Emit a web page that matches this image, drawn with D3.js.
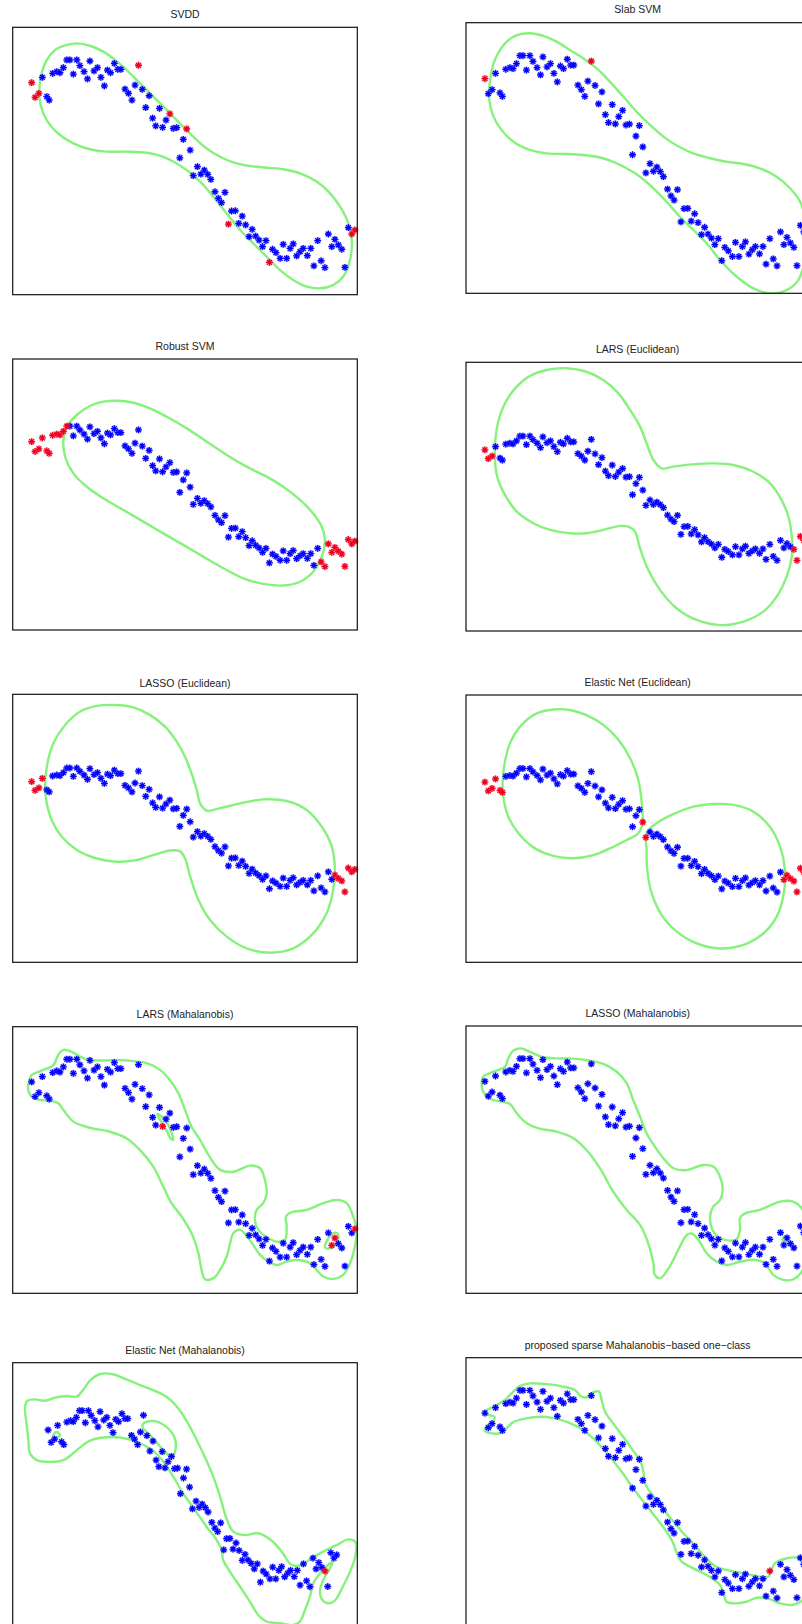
<!DOCTYPE html>
<html>
<head>
<meta charset="utf-8">
<script src="https://cdn.jsdelivr.net/npm/d3@7"></script>
<style>
  body { margin: 0; background: #fff; }
  svg { display: block; }
</style>
</head>
<body>
<div id="chart"></div>
<script>
// the same 95 samples appear in every panel
const ptX = [0.055,0.065,0.076,0.086,0.099,0.106,0.116,0.128,0.137,0.147,
  0.157,0.166,0.176,0.186,0.195,0.207,0.217,0.224,0.236,0.246,
  0.256,0.266,0.275,0.284,0.295,0.305,0.314,0.365,0.326,0.336,
  0.346,0.355,0.376,0.396,0.386,0.406,0.415,0.426,0.435,0.445,
  0.456,0.466,0.476,0.505,0.495,0.515,0.485,0.524,0.536,0.546,
  0.556,0.566,0.575,0.587,0.597,0.606,0.616,0.626,0.635,0.646,
  0.656,0.666,0.676,0.686,0.695,0.705,0.715,0.725,0.735,0.745,
  0.754,0.764,0.776,0.785,0.795,0.805,0.814,0.824,0.834,0.843,
  0.855,0.865,0.874,0.885,0.895,0.906,0.916,0.926,0.935,0.945,
  0.955,0.964,0.974,0.984,0.993];
const ptY = [0.793,0.738,0.753,0.813,0.741,0.728,0.828,0.834,0.830,0.849,
  0.878,0.878,0.825,0.878,0.857,0.834,0.807,0.874,0.837,0.849,
  0.813,0.781,0.840,0.830,0.865,0.843,0.843,0.858,0.769,0.753,
  0.728,0.784,0.768,0.744,0.700,0.660,0.631,0.697,0.626,0.653,
  0.676,0.622,0.625,0.620,0.581,0.541,0.512,0.445,0.479,0.451,
  0.466,0.450,0.431,0.385,0.360,0.344,0.383,0.264,0.313,0.314,
  0.267,0.294,0.261,0.217,0.244,0.219,0.204,0.180,0.202,0.121,
  0.170,0.157,0.136,0.188,0.136,0.173,0.190,0.145,0.161,0.173,
  0.146,0.173,0.108,0.202,0.127,0.101,0.227,0.180,0.207,0.186,
  0.170,0.102,0.251,0.227,0.242];

const titles = ["SVDD", "Slab SVM", "Robust SVM", "LARS (Euclidean)", "LASSO (Euclidean)",
  "Elastic Net (Euclidean)", "LARS (Mahalanobis)", "LASSO (Mahalanobis)",
  "Elastic Net (Mahalanobis)", "proposed sparse Mahalanobis\u2212based one\u2212class"];

// samples flagged as outliers (1-based) in each panel
const redSVDD = [1,2,3,28,41,44,58,70,94,95];
const redSlab = [1,28];
const redRobust = [1,2,3,4,5,6,7,8,9,10,11,85,86,87,88,89,90,91,92,93,94,95];
const redLarsE = [1,2,3,91,92,93,94,95];
const redLassoE = [1,2,3,4,89,90,91,92,93,94,95];
const redEnetE = [1,2,3,4,5,6,46,48,88,89,90,91,92,93,94,95];
const redLarsM = [39,88,89,95];
const redLassoM = [];
const redEnetM = [91];
const redProposed = [84];

// axis limits of each panel
const xDomains = [[0,1],[0,1],[0,1],[0,1],[0,1],[0,1],[0,1],[0,1],[-0.06,1.06],[0,1]];
const yDomains = [[0,1],[0,1],[-0.25,1.25],[-0.34,1.34],[-0.34,1.34],[-0.34,1.34],[0,1],[0,1],[-0.09,1.09],[0,1]];

// decision boundaries
const ringSVDD = [[0.077,0.741],[0.084,0.828],[0.099,0.878],[0.123,0.915],[0.157,0.934],[0.186,0.940],[0.224,0.931],[0.263,0.909],[0.297,0.878],[0.331,0.840],[0.369,0.791],[0.408,0.741],[0.447,0.691],[0.485,0.641],[0.524,0.591],[0.563,0.547],[0.602,0.516],[0.640,0.495],[0.689,0.481],[0.737,0.475],[0.785,0.469],[0.834,0.454],[0.882,0.423],[0.921,0.379],[0.950,0.329],[0.974,0.267],[0.984,0.204],[0.979,0.130],[0.959,0.067],[0.930,0.036],[0.892,0.024],[0.853,0.030],[0.814,0.055],[0.776,0.092],[0.737,0.142],[0.698,0.192],[0.660,0.242],[0.621,0.304],[0.582,0.367],[0.544,0.423],[0.505,0.466],[0.466,0.498],[0.427,0.520],[0.389,0.531],[0.331,0.535],[0.273,0.535],[0.224,0.544],[0.176,0.566],[0.137,0.597],[0.108,0.635],[0.089,0.678]];
const ringSlab = [[0.068,0.714],[0.070,0.788],[0.084,0.862],[0.114,0.924],[0.148,0.954],[0.186,0.961],[0.225,0.951],[0.264,0.930],[0.303,0.899],[0.342,0.868],[0.381,0.831],[0.419,0.782],[0.458,0.727],[0.497,0.671],[0.536,0.622],[0.575,0.579],[0.614,0.546],[0.662,0.517],[0.711,0.499],[0.759,0.486],[0.808,0.478],[0.856,0.462],[0.905,0.431],[0.944,0.388],[0.973,0.339],[0.987,0.283],[0.992,0.222],[0.987,0.123],[0.968,0.049],[0.934,0.012],[0.885,0.000],[0.837,0.018],[0.788,0.062],[0.740,0.123],[0.701,0.185],[0.662,0.234],[0.623,0.283],[0.584,0.339],[0.546,0.388],[0.507,0.431],[0.468,0.462],[0.429,0.486],[0.390,0.502],[0.342,0.511],[0.293,0.515],[0.235,0.517],[0.186,0.530],[0.138,0.560],[0.104,0.603],[0.080,0.653]];
const ringRobust = [[0.147,0.802],[0.157,0.875],[0.186,0.940],[0.224,0.990],[0.263,1.014],[0.302,1.019],[0.350,1.008],[0.398,0.977],[0.447,0.930],[0.505,0.866],[0.563,0.792],[0.621,0.719],[0.679,0.654],[0.737,0.599],[0.785,0.543],[0.834,0.470],[0.872,0.395],[0.897,0.321],[0.906,0.248],[0.897,0.156],[0.872,0.072],[0.834,0.017],[0.785,-0.004],[0.727,0.005],[0.669,0.036],[0.611,0.092],[0.553,0.156],[0.495,0.221],[0.437,0.285],[0.379,0.350],[0.321,0.414],[0.263,0.479],[0.215,0.543],[0.176,0.617],[0.152,0.710]];
const ringLarsE = [[0.084,0.750],[0.089,0.917],[0.109,1.063],[0.143,1.177],[0.186,1.254],[0.235,1.292],[0.293,1.303],[0.351,1.281],[0.400,1.229],[0.444,1.146],[0.478,1.042],[0.507,0.938],[0.526,0.834],[0.546,0.729],[0.570,0.677],[0.604,0.688],[0.662,0.702],[0.720,0.708],[0.779,0.698],[0.837,0.656],[0.885,0.584],[0.919,0.480],[0.939,0.376],[0.949,0.250],[0.949,0.125],[0.934,0.000],[0.905,-0.125],[0.866,-0.219],[0.808,-0.281],[0.740,-0.303],[0.672,-0.271],[0.614,-0.199],[0.565,-0.083],[0.531,0.041],[0.507,0.177],[0.492,0.282],[0.473,0.312],[0.449,0.317],[0.400,0.292],[0.351,0.271],[0.303,0.271],[0.245,0.292],[0.196,0.334],[0.148,0.406],[0.114,0.510],[0.091,0.624]];
const ringLassoE = [[0.094,0.740],[0.099,0.886],[0.118,1.033],[0.152,1.148],[0.195,1.231],[0.244,1.267],[0.297,1.273],[0.350,1.258],[0.398,1.211],[0.442,1.137],[0.476,1.043],[0.500,0.949],[0.519,0.845],[0.534,0.740],[0.544,0.656],[0.563,0.611],[0.602,0.626],[0.660,0.656],[0.727,0.681],[0.795,0.671],[0.853,0.615],[0.897,0.510],[0.926,0.385],[0.935,0.239],[0.930,0.113],[0.911,-0.033],[0.872,-0.159],[0.814,-0.253],[0.747,-0.280],[0.679,-0.253],[0.621,-0.179],[0.573,-0.075],[0.539,0.051],[0.515,0.198],[0.500,0.312],[0.485,0.357],[0.456,0.361],[0.408,0.332],[0.350,0.297],[0.292,0.292],[0.234,0.317],[0.186,0.364],[0.142,0.448],[0.113,0.552],[0.099,0.656]];
const ringEnetE1 = [[0.107,0.743],[0.111,0.890],[0.128,1.036],[0.162,1.152],[0.206,1.224],[0.254,1.249],[0.303,1.246],[0.351,1.214],[0.400,1.152],[0.444,1.058],[0.478,0.942],[0.502,0.806],[0.512,0.660],[0.514,0.534],[0.502,0.471],[0.468,0.429],[0.419,0.376],[0.371,0.334],[0.313,0.314],[0.254,0.329],[0.201,0.376],[0.157,0.460],[0.123,0.576]];
const ringEnetE2 = [[0.526,0.471],[0.555,0.534],[0.604,0.591],[0.662,0.638],[0.720,0.655],[0.779,0.649],[0.837,0.607],[0.885,0.512],[0.915,0.387],[0.929,0.240],[0.924,0.073],[0.905,-0.053],[0.866,-0.159],[0.808,-0.231],[0.740,-0.253],[0.672,-0.221],[0.614,-0.147],[0.570,-0.043],[0.541,0.093],[0.528,0.240],[0.526,0.366]];
const ringLarsM1 = [[0.045,0.781],[0.055,0.819],[0.084,0.835],[0.118,0.856],[0.132,0.894],[0.147,0.913],[0.171,0.906],[0.200,0.885],[0.224,0.875],[0.263,0.873],[0.302,0.875],[0.350,0.871],[0.389,0.863],[0.427,0.838],[0.456,0.800],[0.481,0.750],[0.500,0.688],[0.519,0.625],[0.544,0.575],[0.568,0.519],[0.602,0.463],[0.640,0.456],[0.689,0.479],[0.718,0.469],[0.732,0.425],[0.737,0.375],[0.727,0.338],[0.708,0.313],[0.703,0.275],[0.713,0.238],[0.737,0.210],[0.766,0.194],[0.790,0.200],[0.795,0.250],[0.793,0.288],[0.809,0.304],[0.853,0.313],[0.901,0.338],[0.940,0.350],[0.969,0.338],[0.988,0.288],[0.998,0.238],[0.993,0.175],[0.979,0.113],[0.959,0.069],[0.930,0.054],[0.901,0.063],[0.882,0.088],[0.863,0.113],[0.824,0.125],[0.795,0.119],[0.766,0.106],[0.742,0.119],[0.718,0.144],[0.698,0.181],[0.679,0.215],[0.660,0.238],[0.640,0.225],[0.631,0.188],[0.621,0.138],[0.602,0.088],[0.582,0.056],[0.558,0.053],[0.548,0.088],[0.539,0.150],[0.519,0.225],[0.490,0.288],[0.461,0.338],[0.437,0.400],[0.408,0.475],[0.369,0.538],[0.331,0.581],[0.282,0.606],[0.224,0.621],[0.176,0.644],[0.147,0.688],[0.132,0.713],[0.108,0.723],[0.079,0.725],[0.055,0.738],[0.045,0.763]];
const ringLarsM2 = [[0.420,0.673],[0.435,0.660],[0.450,0.635],[0.461,0.603],[0.466,0.575],[0.458,0.581],[0.447,0.610],[0.433,0.640],[0.422,0.663]];
const ringLarsM3 = [[0.906,0.175],[0.916,0.206],[0.930,0.225],[0.942,0.225],[0.945,0.203],[0.935,0.181],[0.921,0.169],[0.909,0.169]];
const ringLassoM1 = [[0.046,0.792],[0.050,0.810],[0.080,0.829],[0.114,0.848],[0.123,0.879],[0.138,0.908],[0.162,0.916],[0.191,0.900],[0.225,0.883],[0.264,0.879],[0.313,0.878],[0.361,0.870],[0.400,0.858],[0.439,0.829],[0.468,0.786],[0.487,0.723],[0.507,0.661],[0.526,0.599],[0.550,0.549],[0.575,0.505],[0.604,0.468],[0.643,0.461],[0.691,0.480],[0.720,0.474],[0.740,0.436],[0.748,0.387],[0.740,0.349],[0.720,0.324],[0.711,0.287],[0.718,0.237],[0.740,0.206],[0.769,0.197],[0.788,0.202],[0.798,0.237],[0.798,0.281],[0.813,0.299],[0.856,0.312],[0.915,0.343],[0.953,0.343],[0.978,0.318],[0.992,0.262],[0.992,0.150],[0.978,0.081],[0.953,0.052],[0.924,0.050],[0.895,0.069],[0.871,0.112],[0.842,0.125],[0.798,0.118],[0.759,0.106],[0.730,0.118],[0.701,0.150],[0.677,0.200],[0.657,0.224],[0.643,0.218],[0.623,0.175],[0.604,0.125],[0.584,0.081],[0.565,0.056],[0.550,0.069],[0.546,0.112],[0.531,0.187],[0.507,0.256],[0.468,0.312],[0.429,0.380],[0.390,0.468],[0.351,0.536],[0.313,0.580],[0.264,0.605],[0.211,0.617],[0.177,0.636],[0.148,0.673],[0.128,0.708],[0.104,0.717],[0.080,0.723],[0.060,0.736],[0.048,0.761]];
const ringLassoM2 = [[0.924,0.209],[0.934,0.209],[0.934,0.194],[0.924,0.194]];
const ringEnetM1 = [[-0.020,0.896],[-0.012,0.922],[0.013,0.928],[0.045,0.922],[0.078,0.936],[0.115,0.943],[0.148,0.940],[0.170,0.972],[0.193,1.014],[0.224,1.040],[0.262,1.040],[0.305,1.019],[0.354,0.991],[0.402,0.966],[0.446,0.933],[0.482,0.881],[0.511,0.819],[0.538,0.749],[0.565,0.672],[0.592,0.587],[0.614,0.499],[0.633,0.410],[0.657,0.344],[0.695,0.329],[0.738,0.337],[0.782,0.304],[0.814,0.256],[0.847,0.197],[0.879,0.197],[0.911,0.227],[0.949,0.256],[0.993,0.285],[1.031,0.310],[1.055,0.296],[1.052,0.227],[1.034,0.160],[1.012,0.099],[0.987,0.040],[0.963,0.028],[0.944,0.047],[0.939,0.087],[0.952,0.138],[0.971,0.182],[0.980,0.212],[0.944,0.168],[0.917,0.116],[0.906,0.057],[0.890,-0.002],[0.873,-0.053],[0.852,-0.068],[0.809,-0.060],[0.765,-0.053],[0.738,-0.024],[0.711,0.035],[0.679,0.101],[0.646,0.168],[0.624,0.219],[0.619,0.263],[0.603,0.307],[0.570,0.366],[0.532,0.440],[0.494,0.513],[0.462,0.587],[0.430,0.653],[0.392,0.705],[0.343,0.741],[0.289,0.760],[0.235,0.760],[0.191,0.746],[0.159,0.716],[0.132,0.685],[0.105,0.660],[0.061,0.652],[0.018,0.660],[-0.004,0.690],[-0.009,0.749],[-0.015,0.822]];
const ringEnetM2 = [[0.365,0.822],[0.397,0.833],[0.435,0.811],[0.464,0.766],[0.470,0.712],[0.457,0.675],[0.435,0.697],[0.408,0.737],[0.381,0.778],[0.362,0.805]];
const ringEnetM3 = [[0.072,0.771],[0.083,0.784],[0.094,0.771],[0.083,0.758]];
const ringProposed = [[0.055,0.798],[0.080,0.817],[0.109,0.838],[0.133,0.867],[0.157,0.894],[0.186,0.904],[0.235,0.901],[0.283,0.892],[0.317,0.879],[0.337,0.854],[0.351,0.852],[0.369,0.870],[0.388,0.873],[0.395,0.842],[0.405,0.798],[0.429,0.754],[0.458,0.704],[0.485,0.655],[0.507,0.615],[0.517,0.574],[0.520,0.536],[0.534,0.502],[0.560,0.461],[0.584,0.418],[0.609,0.380],[0.633,0.343],[0.662,0.305],[0.691,0.262],[0.725,0.221],[0.769,0.203],[0.817,0.191],[0.856,0.181],[0.881,0.181],[0.888,0.203],[0.900,0.231],[0.924,0.246],[0.953,0.253],[0.973,0.249],[0.987,0.218],[0.992,0.156],[0.987,0.106],[0.979,0.091],[0.951,0.075],[0.915,0.081],[0.878,0.100],[0.847,0.102],[0.817,0.087],[0.779,0.081],[0.759,0.087],[0.750,0.118],[0.740,0.150],[0.701,0.187],[0.662,0.212],[0.628,0.237],[0.614,0.268],[0.604,0.305],[0.584,0.349],[0.555,0.399],[0.521,0.455],[0.487,0.511],[0.453,0.574],[0.415,0.636],[0.376,0.692],[0.337,0.732],[0.298,0.758],[0.254,0.774],[0.216,0.779],[0.172,0.772],[0.138,0.759],[0.118,0.736],[0.104,0.719],[0.075,0.717],[0.055,0.726],[0.060,0.744],[0.080,0.764],[0.083,0.779],[0.065,0.786]];

const redLists = [redSVDD, redSlab, redRobust, redLarsE, redLassoE, redEnetE, redLarsM, redLassoM, redEnetM, redProposed];
const rings = [[ringSVDD],[ringSlab],[ringRobust],[ringLarsE],[ringLassoE],[ringEnetE1, ringEnetE2],
  [ringLarsM1, ringLarsM2, ringLarsM3],[ringLassoM1, ringLassoM2],[ringEnetM1, ringEnetM2, ringEnetM3],[ringProposed]];

// panel boxes on the page (pixels)
const boxes = [
  {x: 12.7, y: 27.3, w: 344.6, h: 267.4, ty: 15},
  {x: 466, y: 22.7, w: 343.3, h: 270.6, ty: 10.3},
  {x: 12.7, y: 359, w: 344.6, h: 271, ty: 347.3},
  {x: 466, y: 362.3, w: 343.3, h: 268.7, ty: 350},
  {x: 12.7, y: 694.3, w: 344.6, h: 268, ty: 684},
  {x: 466, y: 695, w: 343.3, h: 267.3, ty: 683.3},
  {x: 12.7, y: 1026.7, w: 344.6, h: 266.6, ty: 1015},
  {x: 466, y: 1026, w: 343.3, h: 267.3, ty: 1014.3},
  {x: 12.7, y: 1362.7, w: 344.6, h: 267.3, ty: 1351.7},
  {x: 466, y: 1357.7, w: 343.3, h: 267.3, ty: 1346.7}
];

const width = 802, height = 1624;
const green = "#86f27c";
const starPath = "M-3.4,0H3.4M0,-3.4V3.4M-2.4,-2.4L2.4,2.4M-2.4,2.4L2.4,-2.4";

let svg = d3.select("#chart").append("svg")
  .attr("width", width)
  .attr("height", height);

let points = ptX.map(function(d, i) { return {x: d, y: ptY[i], id: i + 1}; });

boxes.forEach(function(b, k) {
  let xScale = d3.scaleLinear().domain(xDomains[k]).range([b.x, b.x + b.w]);
  let yScale = d3.scaleLinear().domain(yDomains[k]).range([b.y + b.h, b.y]);

  svg.append("clipPath").attr("id", "clip" + k)
    .append("rect")
    .attr("x", b.x).attr("y", b.y).attr("width", b.w).attr("height", b.h);

  let g = svg.append("g");

  // title
  g.append("text")
    .attr("x", b.x + b.w / 2)
    .attr("y", b.ty)
    .attr("text-anchor", "middle")
    .attr("dominant-baseline", "middle")
    .style("font-family", "'Liberation Sans', Arial, sans-serif")
    .style("font-size", "10.5px")
    .style("fill", "#222")
    .text(titles[k]);

  // boundary
  let line = d3.line()
    .x(function(d) { return xScale(d[0]); })
    .y(function(d) { return yScale(d[1]); })
    .curve(d3.curveCatmullRomClosed.alpha(0.5));

  g.append("g")
    .attr("clip-path", "url(#clip" + k + ")")
    .selectAll("path")
    .data(rings[k])
    .enter()
    .append("path")
    .attr("d", line)
    .attr("fill", "none")
    .attr("stroke", green)
    .attr("stroke-width", 2.4);

  // samples: inliers first, then outliers on top
  let reds = redLists[k];
  let ordered = points.filter(function(d) { return reds.indexOf(d.id) < 0; })
    .concat(points.filter(function(d) { return reds.indexOf(d.id) >= 0; }));

  let marks = g.append("g")
    .selectAll(".mark")
    .data(ordered)
    .enter()
    .append("g")
    .attr("class", "mark")
    .attr("transform", function(d) { return "translate(" + xScale(d.x) + "," + yScale(d.y) + ")"; });

  marks.append("circle")
    .attr("r", 3.6)
    .attr("fill", function(d) { return reds.indexOf(d.id) >= 0 ? "#ff5a6e" : "#6f6fff"; })
    .attr("opacity", 0.35);

  marks.append("path")
    .attr("d", starPath)
    .attr("stroke", function(d) { return reds.indexOf(d.id) >= 0 ? "#ee0022" : "#0000ff"; })
    .attr("stroke-width", 1.3)
    .attr("fill", "none");

  // axes box
  g.append("rect")
    .attr("x", b.x).attr("y", b.y)
    .attr("width", b.w).attr("height", b.h)
    .attr("fill", "none")
    .attr("stroke", "#111")
    .attr("stroke-width", 1.2);
});
</script>
</body>
</html>
